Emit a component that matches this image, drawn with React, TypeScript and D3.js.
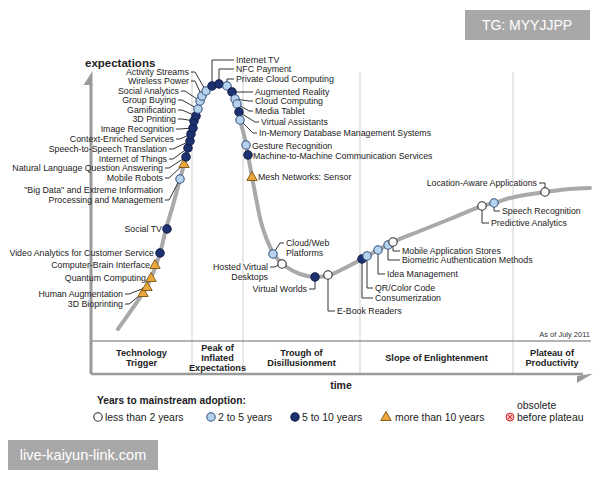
import React from 'react';
import * as d3 from 'd3';

// hype curve (time units / expectation units)
const curveTime = [27, 39, 52, 60, 69, 75, 82, 89, 95, 100, 105, 111, 117, 121, 128, 136, 142, 146, 149, 153, 157, 161, 165, 170, 176, 184, 194, 209, 224, 239, 254, 271, 287, 302, 329, 359, 391, 403, 419, 454, 479, 499];
const curveExpect = [12, 29, 48, 63, 88, 112, 136, 162, 184, 207, 225, 245, 252, 255, 257, 255, 249, 237, 221, 206, 186, 164, 143, 119, 101, 85, 75, 67, 64, 66, 73, 82, 91, 99, 110, 122, 135, 138, 143, 149, 152, 153];

const techNames = [
  '3D Bioprinting', 'Human Augmentation', 'Quantum Computing', 'Computer-Brain Interface',
  'Video Analytics for Customer Service', 'Social TV',
  '"Big Data" and Extreme Information\nProcessing and Management', 'Mobile Robots',
  'Natural Language Question Answering', 'Internet of Things', 'Speech-to-Speech Translation',
  'Context-Enriched Services', 'Image Recognition', '3D Printing', 'Gamification', 'Group Buying',
  'Social Analytics', 'Wireless Power', 'Activity Streams',
  'Internet TV', 'NFC Payment', 'Private Cloud Computing',
  'Augmented Reality', 'Cloud Computing', 'Media Tablet', 'Virtual Assistants',
  'In-Memory Database Management Systems', 'Gesture Recognition',
  'Machine-to-Machine Communication Services', 'Mesh Networks: Sensor',
  'Cloud/Web\nPlatforms', 'Hosted Virtual\nDesktops', 'Virtual Worlds', 'E-Book Readers',
  'Consumerization', 'QR/Color Code', 'Idea Management', 'Biometric Authentication Methods',
  'Mobile Application Stores', 'Predictive Analytics', 'Speech Recognition',
  'Location-Aware Applications',
];
const techTime = [52, 56, 60, 64, 69, 76, 89, 93, 95, 97, 99, 100, 102, 103, 105, 107, 109, 111, 115, 121, 128, 136, 141, 144, 146, 148, 149, 155, 157, 161, 182, 191, 224, 237, 271, 276, 287, 297, 302, 391, 403, 454];
const techExpect = [48, 54, 63, 76, 88, 112, 162, 177, 184, 193, 200, 207, 213, 220, 225, 232, 240, 245, 250, 255, 257, 255, 249, 242, 237, 229, 221, 196, 186, 164, 87, 77, 64, 66, 82, 85, 91, 96, 99, 135, 138, 149];
// lt2 = less than 2 years, s25 = 2 to 5, s510 = 5 to 10, gt10 = more than 10
const techYears = [
  'gt10', 'gt10', 'gt10', 'gt10', 's510', 's510', 's25', 'gt10', 's510', 's510', 's510',
  's510', 's510', 's510', 's510', 's25', 's25', 's25', 's25',
  's510', 's510', 's25', 's510', 's25', 's25', 's510', 's25', 's25', 's510', 'gt10',
  's25', 'lt2', 's510', 'lt2', 's510', 's25', 's25', 's25', 'lt2', 'lt2', 's25', 'lt2',
];

// label placement: [dx, dy, anchor, leader, line the leader attaches to]
const labelLayout: [number, number, string, string, number][] = [
  [-20, 11, 'end', 'slant', 0], [-24, 7, 'end', 'slant', 0], [-5, 0, 'end', 'none', 0], [-5, 0, 'end', 'none', 0],
  [-6, 0, 'end', 'none', 0], [-5, 0, 'end', 'none', 0],
  [-17, 11, 'end', 'slant', 1], [-21, 14, 'end', 'slant', 0],
  [-23, 11, 'end', 'slant', 0], [-21, 11, 'end', 'slant', 0], [-23, 8, 'end', 'slant', 0],
  [-17, 5, 'end', 'slant', 0], [-19, 1, 'end', 'slant', 0], [-18, -2, 'end', 'slant', 0], [-20, -6, 'end', 'slant', 0], [-22, -9, 'end', 'slant', 0],
  [-21, -10, 'end', 'slant', 0], [-13, -15, 'end', 'slant', 0], [-17, -19, 'end', 'slant', 0],
  [24, -26, 'start', 'elbow', 0], [17, -15, 'start', 'elbow', 0], [9, -7, 'start', 'elbow', 0],
  [23, 0, 'start', 'slant', 0], [20, 2, 'start', 'slant', 0], [18, 7, 'start', 'slant', 0], [22, 10, 'start', 'slant', 0],
  [19, 13, 'start', 'slant', 0], [6, 1, 'start', 'none', 0],
  [5, 1, 'start', 'none', 0], [6, 0, 'start', 'none', 0],
  [13, -11, 'start', 'slant', 0], [-14, 3, 'end', 'slant', 0], [-8, 12, 'end', 'elbow', 0], [9, 36, 'start', 'elbow', 0],
  [13, 39, 'start', 'elbow', 0], [8, 32, 'start', 'elbow', 0], [9, 24, 'start', 'elbow', 0], [14, 15, 'start', 'elbow', 0],
  [9, 9, 'start', 'elbow', 0], [9, 17, 'start', 'elbow', 0], [8, 8, 'start', 'elbow', 0],
  [-8, -9, 'end', 'elbow', 0],
];

const phaseNames = ['Technology\nTrigger', 'Peak of\nInflated\nExpectations', 'Trough of\nDisillusionment', 'Slope of Enlightenment', 'Plateau of\nProductivity'];
const phaseBounds = [0, 101, 152, 269, 422, 500];

const legendLabels = ['less than 2 years', '2 to 5 years', '5 to 10 years', 'more than 10 years', 'before plateau'];
const legendCats = ['lt2', 's25', 's510', 'gt10', 'obs'];
const legendX = [98, 211, 295, 386, 510];

const FONT = '"Liberation Sans", Arial, Helvetica, sans-serif';

function Marker({ cx, cy, cat }: { cx: number; cy: number; cat: string }) {
  if (cat === 'gt10') {
    return <path d={`M${cx},${cy - 5.5}L${cx + 5.2},${cy + 3.5}L${cx - 5.2},${cy + 3.5}Z`} fill="#eaa73b" stroke="#7a5212" strokeWidth={0.9} />;
  }
  if (cat === 'obs') {
    return (
      <g>
        <circle cx={cx} cy={cy} r={4} fill="#f7b8b8" stroke="#d8303a" strokeWidth={1} />
        <path d={`M${cx - 2},${cy - 2}L${cx + 2},${cy + 2}M${cx + 2},${cy - 2}L${cx - 2},${cy + 2}`} stroke="#d8303a" strokeWidth={1} />
      </g>
    );
  }
  const fill = cat === 'lt2' ? '#ffffff' : cat === 's25' ? '#b7d2ec' : '#1d3170';
  const stroke = cat === 'lt2' ? '#2a2a2a' : cat === 's25' ? '#34537f' : '#111d45';
  return <circle cx={cx} cy={cy} r={4.2} fill={fill} stroke={stroke} strokeWidth={1.1} />;
}

export default function App() {
  const width = 600;
  const height = 480;
  const x = d3.scaleLinear().domain([0, 500]).range([91, 591]);
  const y = d3.scaleLinear().domain([0, 270]).range([341, 71]);

  const curve = d3.line<number>()
    .x((_, i) => x(curveTime[i]))
    .y((_, i) => y(curveExpect[i]))
    .curve(d3.curveCatmullRom.alpha(0.5));

  const bandTop = 341;
  const bandBottom = 374;
  const lineH = 10;

  return (
    <svg width={width} height={height} style={{ position: 'fixed', left: 0, top: 0, background: '#fff' }} fontFamily={FONT}>
      {/* phase dividers */}
      {phaseBounds.slice(1, -1).map((b, i) => (
        <line key={i} x1={x(b)} x2={x(b)} y1={72} y2={bandBottom} stroke="#cfcfcf" strokeWidth={1} />
      ))}
      {/* phase band */}
      <line x1={x(0)} x2={x(500)} y1={bandTop} y2={bandTop} stroke="#9a9a9a" strokeWidth={1.3} />
      <line x1={x(0)} x2={x(492)} y1={bandBottom} y2={bandBottom} stroke="#9a9a9a" strokeWidth={2.5} />
      <path d={`M${x(486)},${bandBottom + 2}L${x(502)},${bandBottom - 0.5}L${x(486)},${bandBottom + 9}Z`} fill="#9a9a9a" />
      {phaseNames.map((p, i) => {
        const lines = p.split('\n');
        const cx = (x(phaseBounds[i]) + x(phaseBounds[i + 1])) / 2;
        const cy = (bandTop + bandBottom) / 2;
        return (
          <text key={i} x={cx} textAnchor="middle" fontSize={9.2} fontWeight="bold" fill="#222">
            {lines.map((l, j) => (
              <tspan key={j} x={cx} y={cy + (j - (lines.length - 1) / 2) * lineH} dy="0.35em">{l}</tspan>
            ))}
          </text>
        );
      })}
      {/* y axis arrow */}
      <line x1={x(0)} x2={x(0)} y1={bandBottom} y2={84} stroke="#9a9a9a" strokeWidth={3} />
      <path d={`M${x(0) + 1.5},${71}L${x(0) + 1.5},${85}L${x(0) - 7.5},${85}Z`} fill="#9a9a9a" />
      <text x={85} y={63} fontSize={11.5} fontWeight="bold" fill="#222" dy="0.35em">expectations</text>
      <text x={341} y={385} fontSize={10.5} fontWeight="bold" fill="#222" textAnchor="middle" dy="0.35em">time</text>
      <text x={590} y={334} fontSize={7.5} fill="#333" textAnchor="end" dy="0.35em">As of July 2011</text>

      {/* curve */}
      <path d={curve(curveTime) ?? ''} fill="none" stroke="#a9a9a9" strokeWidth={4} strokeLinecap="round" />

      {/* leaders */}
      {techNames.map((name, i) => {
        const [dx, dy, anchor, leader, attach] = labelLayout[i];
        if (leader === 'none') return null;
        const px = x(techTime[i]);
        const py = y(techExpect[i]);
        const lx = px + dx;
        const ly = py + dy + attach * lineH;
        const s = anchor === 'end' ? 1 : -1;
        const d = leader === 'slant'
          ? `M${lx + 2 * s},${ly}L${lx + 6 * s},${ly}L${px},${py}`
          : `M${px},${py}L${px},${ly}L${lx + 2 * s},${ly}`;
        return <path key={name} d={d} fill="none" stroke="#333" strokeWidth={1} />;
      })}

      {/* markers */}
      {techNames.map((name, i) => (
        <Marker key={name} cx={x(techTime[i])} cy={y(techExpect[i])} cat={techYears[i]} />
      ))}

      {/* labels */}
      {techNames.map((name, i) => {
        const [dx, dy, anchor] = labelLayout[i];
        const px = x(techTime[i]) + dx;
        const py = y(techExpect[i]) + dy;
        const lines = name.split('\n');
        return (
          <text key={name} fontSize={8.8} fill="#222" textAnchor={anchor}>
            {lines.map((l, j) => (
              <tspan key={j} x={px} y={py + j * 9.5} dy="0.35em">{l}</tspan>
            ))}
          </text>
        );
      })}

      {/* legend */}
      <text x={97} y={400} fontSize={10.2} fontWeight="bold" fill="#222" dy="0.35em">Years to mainstream adoption:</text>
      {legendLabels.map((l, i) => (
        <g key={l}>
          <Marker cx={legendX[i]} cy={417} cat={legendCats[i]} />
          <text x={legendX[i] + (legendCats[i] === 'gt10' ? 9 : 7)} y={417} fontSize={10.4} fill="#222" dy="0.35em">{l}</text>
        </g>
      ))}
      <text x={517} y={405} fontSize={10.4} fill="#222" dy="0.35em">obsolete</text>

      {/* watermarks */}
      <rect x={465} y={10} width={125} height={30} fill="#a8a8a8" />
      <text x={527} y={25} fontSize={14} fill="#fff" textAnchor="middle" dy="0.35em">TG: MYYJJPP</text>
      <rect x={8} y={440} width={150} height={30} fill="#a8a8a8" />
      <text x={83} y={455} fontSize={14.5} fill="#fff" textAnchor="middle" dy="0.35em">live-kaiyun-link.com</text>
    </svg>
  );
}
